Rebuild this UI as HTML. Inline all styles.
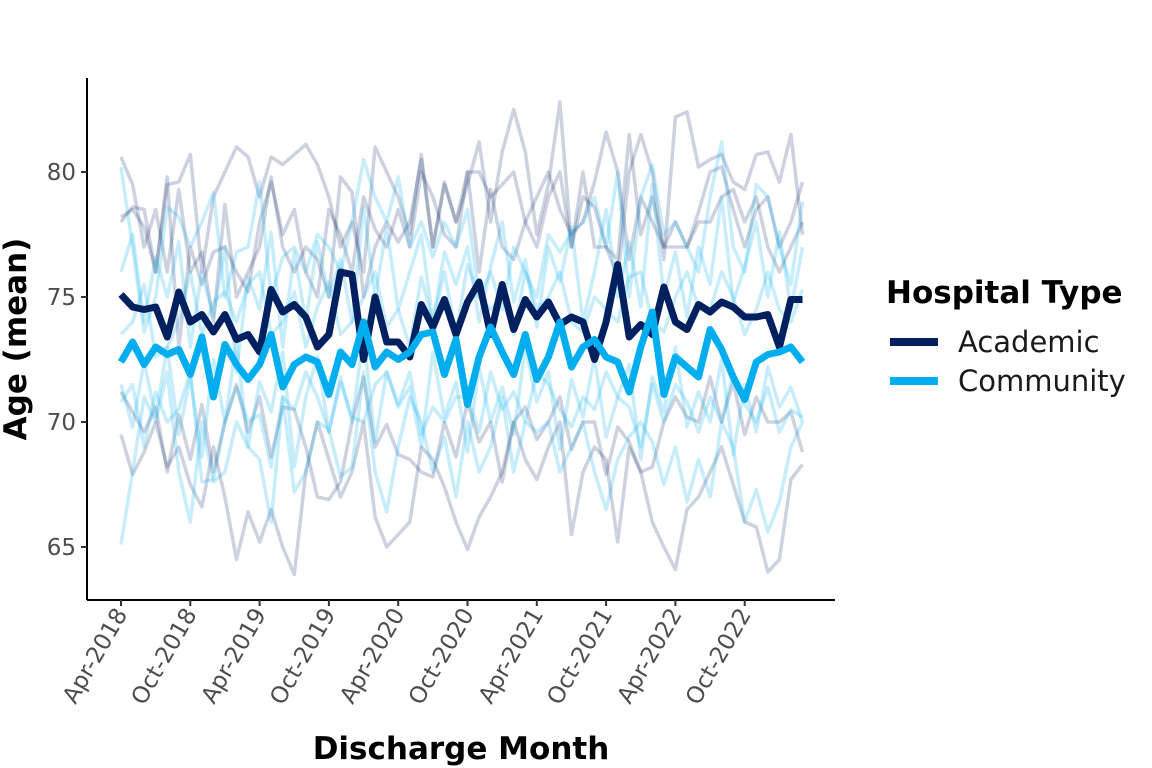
<!DOCTYPE html>
<html><head><meta charset="utf-8"><style>
html,body{margin:0;padding:0;background:#fff;}
svg{display:block;font-family:"DejaVu Sans","Liberation Sans",sans-serif;}
</style></head><body>
<svg id="chart" width="1152" height="768" viewBox="0 0 1152 768">
<g id="bg"></g>
<g id="main"></g>
<g id="axes"></g>
<text x="0" y="0" transform="translate(26,339) rotate(-90)" text-anchor="middle" font-size="31" font-weight="bold">Age (mean)</text>
<text x="461" y="759" text-anchor="middle" font-size="31" font-weight="bold">Discharge Month</text>
<g>
<text x="886" y="303" font-size="31" font-weight="bold">Hospital Type</text>
<g><line x1="890" y1="342" x2="938" y2="342" stroke="#002060" stroke-width="8"/><text x="958" y="352" font-size="29" fill="#1a1a1a">Academic</text></g>
<g><line x1="890" y1="381" x2="938" y2="381" stroke="#00AEEF" stroke-width="8"/><text x="958" y="391" font-size="29" fill="#1a1a1a">Community</text></g>
</g>
</svg>
<script>
const yTicks=[65,70,75,80];
const xTickLabels=["Apr-2018","Oct-2018","Apr-2019","Oct-2019","Apr-2020","Oct-2020","Apr-2021","Oct-2021","Apr-2022","Oct-2022"];
const academic=[75.1,74.6,74.5,74.6,73.4,75.2,74.0,74.3,73.6,74.3,73.3,73.5,72.8,75.3,74.4,74.7,74.2,73.0,73.5,76.0,75.9,72.5,75.0,73.2,73.2,72.6,74.7,73.8,74.9,73.5,74.8,75.6,73.5,75.5,73.7,74.9,74.2,74.8,73.9,74.2,74.0,72.5,74.0,76.3,73.4,73.9,73.5,75.4,74.0,73.7,74.7,74.4,74.8,74.6,74.2,74.2,74.3,73.0,74.9,74.9];
const community=[72.4,73.2,72.3,73.0,72.7,72.9,71.9,73.4,71.0,73.1,72.3,71.7,72.3,73.5,71.4,72.3,72.6,72.4,71.1,72.8,72.3,74.0,72.2,72.8,72.5,72.8,73.5,73.6,71.9,73.3,70.7,72.6,73.8,72.8,71.9,73.5,71.7,72.6,74.0,72.2,73.0,73.3,72.6,72.4,71.2,73.0,74.4,71.1,72.6,72.2,71.8,73.7,72.9,71.8,70.9,72.4,72.7,72.8,73.0,72.4];
const acadH1=[78,78.6,78.5,76,79.5,79.6,80.7,76,79,80,81,80.6,79,80.6,80.3,80.7,81.1,80.3,79,77,78,76,81,80,79,77.5,80.7,77,79.5,78,79.5,81.2,78,80.8,82.5,80.8,77.5,79.5,82.8,77,80,77,77,75.8,80,81.5,80,76.5,82.2,82.4,80.2,80.5,80.7,79.6,79.3,80.7,80.8,79.6,81.5,77.5];
const acadH2=[69.5,67.9,68.8,70,68.2,69,67.5,66.6,69,67,64.5,66.4,65.2,66.5,65,63.9,68,70,68.5,67,68,70,66.2,65,65.5,66,69,68.5,67.4,66,64.9,66.2,67,68,70,68.5,67.7,69,70,65.5,68,69,68.5,65.2,69,68,66,65,64.1,66.5,67,68,69,67.5,66,65.8,64,64.5,67.7,68.3];
const acadH3=[80.6,79.5,77,78.5,76,79.3,76,76.8,74,78.7,75,76,77,79.8,77,76,77,76.5,75,79.8,79.2,75,77,78,77.2,78,80.5,77,79.6,78,80,76,79.3,77,76.5,78,79,80,78.5,77.5,78,79.6,81.6,80,76.5,79,78,77,78,77,78.4,80,80.2,78.5,77,78.5,79,77,78,79.6];
const acadH4=[71.2,70.4,69.6,70.6,68,70.3,68.5,70.7,68,70,71.5,69.6,71,68.6,70.6,70.5,69,67,66.9,67.6,70,71.8,69,69.9,68.7,68.5,68,67.8,70,68.6,70.8,69.2,70,67.6,70,70.6,69.3,70,71,68.9,70,70,67.9,69.8,69.2,68,68.2,70,71,70.2,70,71.8,70,71.6,69.5,71,70,70,70.4,68.8];
const acadH5=[78.2,78.5,77.8,76,79.8,73,77,75.5,76.8,77,76,75.2,78,79.6,77.5,78.5,76,75,78.5,77.5,76,79,77.7,77,78.5,77,80,79,77.5,77,80,80,79,79.5,80,78,77,79,80,77,79,78.6,77,76.5,81.5,77.5,79,77,77,77,78,78,79,79.3,78,79,77,76,77,78];
const commH1=[80.2,77,73.6,75,78.6,78.2,77,78,79.2,75,76.8,77,79.6,75,76.6,77,76,77.5,77,76,78,80.5,79,78,79.8,77,78,76.6,78,77,78.5,75,76,74.5,77,76,75,77.5,76.8,77.6,78,79,77,80,75,79,80.3,77.5,78,77,76,79,81.2,77,76,79.5,79,77,75.5,78.8];
const commH2=[65.1,68,71,70,72,68,66,70,67.6,68,70,69,68.5,66,71,67.2,68,70,69.7,67.8,68.2,72,68,66.4,69,71,70,68,69.4,67,70,68,69,71,68,70,69.6,70,68,69,70,68,66.5,68.5,69.4,70,69.2,67.5,69,66.8,68.5,67,70,69,66,67.3,65.6,66.8,69,70];
const commH3=[73.5,74,75.5,72.6,73,74,76,73.5,74.8,75.2,74,75.5,76,73.5,74,75.2,73,74.6,75.6,73.5,74,75,76,73.8,74.5,73,75.8,74,76,73.5,76.3,75,74.5,75,73.5,76,74.5,75,76,74,73.6,75,74.5,74,75.8,76,74,73.6,75,76,74.6,74.5,76,75,73.5,74.5,76,74.5,74,75.3];
const commH4=[70.8,71.5,69,71.2,70,70.5,72,67.6,67.7,70,71.4,70,70.3,68.2,71,70.5,72,71,69.6,71.6,70.2,70,71.5,72,70.7,72,69.5,70.6,70,71,71,69.6,72,70.5,71.2,70,72,71.5,70.5,69.8,71,70.5,72,71,70.6,69,71.5,70,71.5,70.8,69.6,71,70,72,70.7,70,71.4,69.6,70.5,70.2];
const commH5=[76,77.5,74,76.6,75,77.2,73,76,74.2,77,72,75.8,74.5,77.6,73,76.8,74,77.2,75,76.5,74,78.6,75,77.8,74.5,76,77.5,74,76.8,75.5,77,74,76.2,78,74.8,76.5,73.8,77,75.6,77.8,74,76,78.5,75,77.2,74.6,79.5,75,76.8,74.2,77,75.5,79,74.8,76.2,78,75,77.6,74.5,77];
const commH6=[71.5,69.8,72.4,70.2,73,69.5,71.8,68.6,72.5,70,73.2,69,71.6,70.4,72.8,68.2,71,72.6,69.6,71.8,70,73.5,69.2,72,70.6,71.4,69,72.8,70.2,71.6,68.8,72.2,70,71.4,69.5,73,70.8,72,68.9,71.7,70.2,72.6,69.4,71,72.3,68.5,71.8,70.4,73,69.8,71.2,70,72.5,68.7,71.5,69.6,72.2,70.6,71.4,70];

const NS="http://www.w3.org/2000/svg";
const X0=121,DX=11.55,PL=87,PR=835,PT=78,PB=600;
function xs(i){return X0+DX*i;}
function ys(v){return 172+(80-v)*25;}
function mk(t,a,p){const e=document.createElementNS(NS,t);for(const k in a)e.setAttribute(k,a[k]);p.appendChild(e);return e;}
function path(arr){return arr.map((v,i)=>(i?"L":"M")+xs(i).toFixed(1)+","+ys(v).toFixed(1)).join("");}
const bg=document.getElementById("bg"),mn=document.getElementById("main"),ax=document.getElementById("axes");
[acadH1,acadH2,acadH3,acadH4,acadH5].forEach(a=>{const p=mk("path",{d:path(a),fill:"none",stroke:"rgba(0,32,96,0.2)","stroke-width":3.5,"stroke-linejoin":"round"},bg);

});
[commH1,commH2,commH3,commH4,commH5,commH6].forEach(a=>{const p=mk("path",{d:path(a),fill:"none",stroke:"rgba(0,174,239,0.22)","stroke-width":3.5,"stroke-linejoin":"round"},bg);

});
const pa=mk("path",{d:path(academic),fill:"none",stroke:"#002060","stroke-width":7,"stroke-linejoin":"round"},mn);


const pc=mk("path",{d:path(community),fill:"none",stroke:"#00AEEF","stroke-width":7,"stroke-linejoin":"round"},mn);


mk("line",{x1:PL,y1:PT,x2:PL,y2:PB,stroke:"#000","stroke-width":2},ax);
mk("line",{x1:PL,y1:PB,x2:PR,y2:PB,stroke:"#000","stroke-width":2},ax);
yTicks.forEach(v=>{mk("line",{x1:PL-6,y1:ys(v),x2:PL,y2:ys(v),stroke:"#333","stroke-width":2},ax);
const t=mk("text",{x:PL-11,y:ys(v)+8,"text-anchor":"end","font-size":23,fill:"#4d4d4d"},ax);t.textContent=v;

});
xTickLabels.forEach((l,k)=>{const x=xs(k*6);mk("line",{x1:x,y1:PB,x2:x,y2:PB+6,stroke:"#333","stroke-width":2},ax);
const t=mk("text",{x:0,y:0,transform:`translate(${x+7},${PB+14}) rotate(-60)`,"text-anchor":"end","font-size":23,fill:"#4d4d4d"},ax);t.textContent=l;

});
</script>
</body></html>
